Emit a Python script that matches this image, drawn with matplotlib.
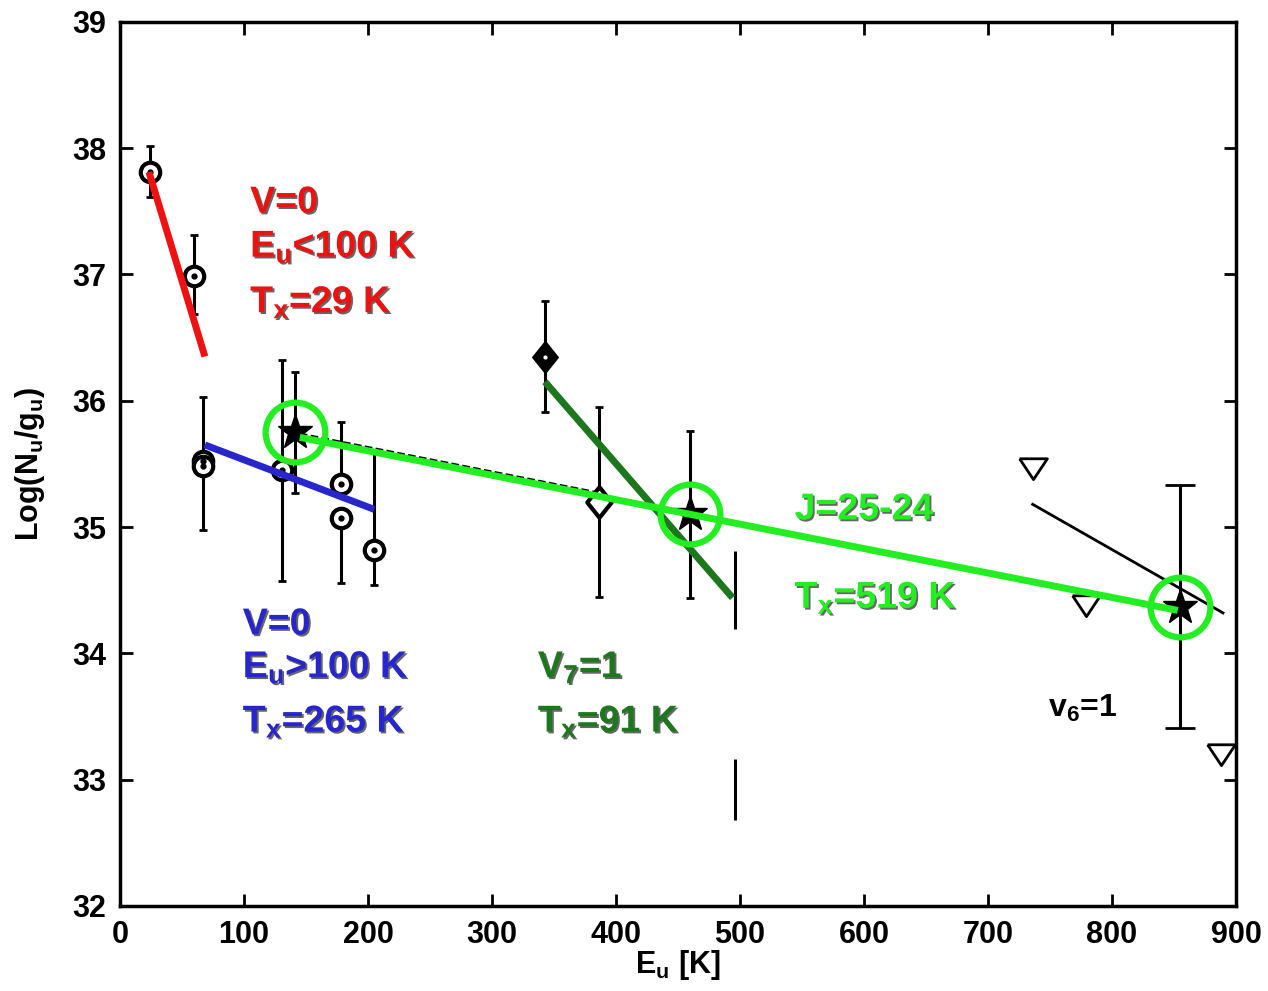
import matplotlib
matplotlib.use('Agg')
import matplotlib.pyplot as plt
import matplotlib.patheffects as pe

plt.rcParams['font.family'] = ['Liberation Sans', 'DejaVu Sans']
plt.rcParams['font.weight'] = 'bold'
plt.rcParams['mathtext.fontset'] = 'custom'
plt.rcParams['mathtext.rm'] = 'Liberation Sans:bold'
plt.rcParams['mathtext.it'] = 'Liberation Sans:bold'
plt.rcParams['mathtext.bf'] = 'Liberation Sans:bold'

# v=0 lines (open circles)
v0_e = [24, 60, 67, 67, 131, 178, 178, 205]
v0_logn = [37.81, 36.99, 35.52, 35.48, 35.45, 35.34, 35.07, 34.82]
v0_err_lo = [0.20, 0.30, 0.54, 0.0, 0.88, 0.0, 0.51, 0.28]
v0_err_hi = [0.21, 0.32, 0.51, 0.0, 0.87, 0.49, 0.0, 0.79]

# J=25-24 lines (stars)
star_e = [141, 460, 855]
star_logn = [35.75, 35.10, 34.37]
star_err = [0.48, 0.66, 0.96]

# v7=1 lines (diamonds)
v7_e = [343, 386]
v7_logn = [36.35, 35.20]
v7_err = [0.44, 0.75]

# bars without marker
bar_e = [496, 496]
bar_lo = [34.19, 32.68]
bar_hi = [34.81, 33.16]

# v6=1 (triangles)
v6_e = [736, 779, 888]
v6_logn = [35.47, 34.38, 33.20]

# rotational diagram fits
fit_red_e, fit_red_y = [23.4, 68.5], [37.81, 36.35]
fit_blue_e, fit_blue_y = [68.5, 205], [35.65, 35.14]
fit_lime_e, fit_lime_y = [145, 853], [35.71, 34.34]
fit_dkg_e, fit_dkg_y = [342.7, 494], [36.15, 34.44]
fit_blk_e, fit_blk_y = [736, 889.5], [35.18, 34.32]
fit_dash_e, fit_dash_y = [145, 390], [35.74, 35.265]

red = '#ee1111'
blue = '#2626cc'
dkgreen = '#1d771d'
lime = '#22ee22'

fig = plt.figure(figsize=(12.68, 9.91), dpi=100)
ax = fig.add_axes([0.0946, 0.0858, 0.8802, 0.8922])

ax.plot(fit_dash_e, fit_dash_y, color='black', lw=1.5, ls='--', zorder=2)

# error bars
ax.errorbar(v0_e, v0_logn, yerr=[v0_err_lo, v0_err_hi], fmt='none', ecolor='black',
            elinewidth=2.2, capsize=3, capthick=2, zorder=3)
ax.errorbar(star_e[:2], star_logn[:2], yerr=star_err[:2], fmt='none', ecolor='black',
            elinewidth=2.2, capsize=3, capthick=2, zorder=3)
ax.errorbar(star_e[2:], star_logn[2:], yerr=star_err[2:], fmt='none', ecolor='black',
            elinewidth=2.2, capsize=11, capthick=2, zorder=3)
ax.errorbar(v7_e, v7_logn, yerr=v7_err, fmt='none', ecolor='black',
            elinewidth=2.2, capsize=3, capthick=2, zorder=3)
ax.vlines(bar_e, bar_lo, bar_hi, color='black', lw=2.2, zorder=3)

# markers
ax.plot(v0_e, v0_logn, ls='none', marker='o', ms=14, mfc='white', mec='black', mew=3, zorder=4)
ax.plot(v0_e, v0_logn, ls='none', marker='.', ms=7, color='black', zorder=5)
diamond = [(0, 1), (0.8, 0), (0, -1), (-0.8, 0), (0, 1)]
ax.plot(v7_e[:1], v7_logn[:1], ls='none', marker=diamond, ms=23, mfc='black', mec='black', zorder=4)
ax.plot(v7_e[1:], v7_logn[1:], ls='none', marker=diamond, ms=22, mfc='white', mec='black', mew=3, zorder=4)
ax.plot(v7_e[:1], v7_logn[:1], ls='none', marker='.', ms=4, color='white', zorder=5)
tri = [(-1, 0.7), (1, 0.7), (0, -0.8), (-1, 0.7)]
ax.plot(v6_e, v6_logn, ls='none', marker=tri, ms=20, mfc='white', mec='black', mew=2, zorder=4)
ax.plot(star_e, star_logn, ls='none', marker='*', ms=26, color='black', zorder=4)

# fits
ax.plot(fit_red_e, fit_red_y, color=red, lw=5, solid_capstyle='butt', zorder=6)
ax.plot(fit_blue_e, fit_blue_y, color=blue, lw=5, solid_capstyle='butt', zorder=6)
ax.plot(fit_dkg_e, fit_dkg_y, color=dkgreen, lw=5, solid_capstyle='butt', zorder=6)
ax.plot(fit_blk_e, fit_blk_y, color='black', lw=2, zorder=6)
ax.plot(fit_lime_e, fit_lime_y, color=lime, lw=5, solid_capstyle='butt', zorder=7)
ax.plot(star_e, star_logn, ls='none', marker='o', ms=43, mfc='none', mec=lime, mew=4.5, zorder=8)

shadow = [pe.SimplePatchShadow(offset=(1.3, -1.3), shadow_rgbFace='black', alpha=0.6), pe.Normal()]

def label(x, y, s, c, size=27):
    ax.text(x, y, s, color=c, fontsize=size, fontweight='bold', va='baseline',
            ha='left', path_effects=shadow, zorder=9)

label(105, 37.49, 'V=0', red)
label(105, 37.14, r'E$_\mathrm{u}$<100 K', red)
label(105, 36.70, r'T$_\mathrm{x}$=29 K', red)
label(99, 34.15, 'V=0', blue)
label(99, 33.81, r'E$_\mathrm{u}$>100 K', blue)
label(99, 33.38, r'T$_\mathrm{x}$=265 K', blue)
label(337, 33.81, r'V$_\mathrm{7}$=1', dkgreen)
label(337, 33.38, r'T$_\mathrm{x}$=91 K', dkgreen)
label(544, 35.06, 'J=25-24', lime)
label(544, 34.36, r'T$_\mathrm{x}$=519 K', lime)
ax.text(748, 33.50, r'v$_\mathrm{6}$=1', color='black', fontsize=23, fontweight='bold',
        va='baseline', ha='left', zorder=9)

ax.set_xlim(0, 900)
ax.set_ylim(32, 39)
ax.set_xticks(range(0, 901, 100))
ax.set_yticks(range(32, 40))
ax.tick_params(direction='in', length=9, width=2, top=True, right=True,
               labelsize=22, pad=10)
for sp in ax.spines.values():
    sp.set_linewidth(2.5)

ax.set_xlabel(r'E$_\mathrm{u}$ [K]', fontsize=22, fontweight='bold')
ax.xaxis.set_label_coords(0.5, -0.047)
ax.set_ylabel(r'Log(N$_\mathrm{u}$/g$_\mathrm{u}$)', fontsize=22, fontweight='bold')
ax.yaxis.set_label_coords(-0.065, 0.5)

fig.savefig('out.png', dpi=100)
